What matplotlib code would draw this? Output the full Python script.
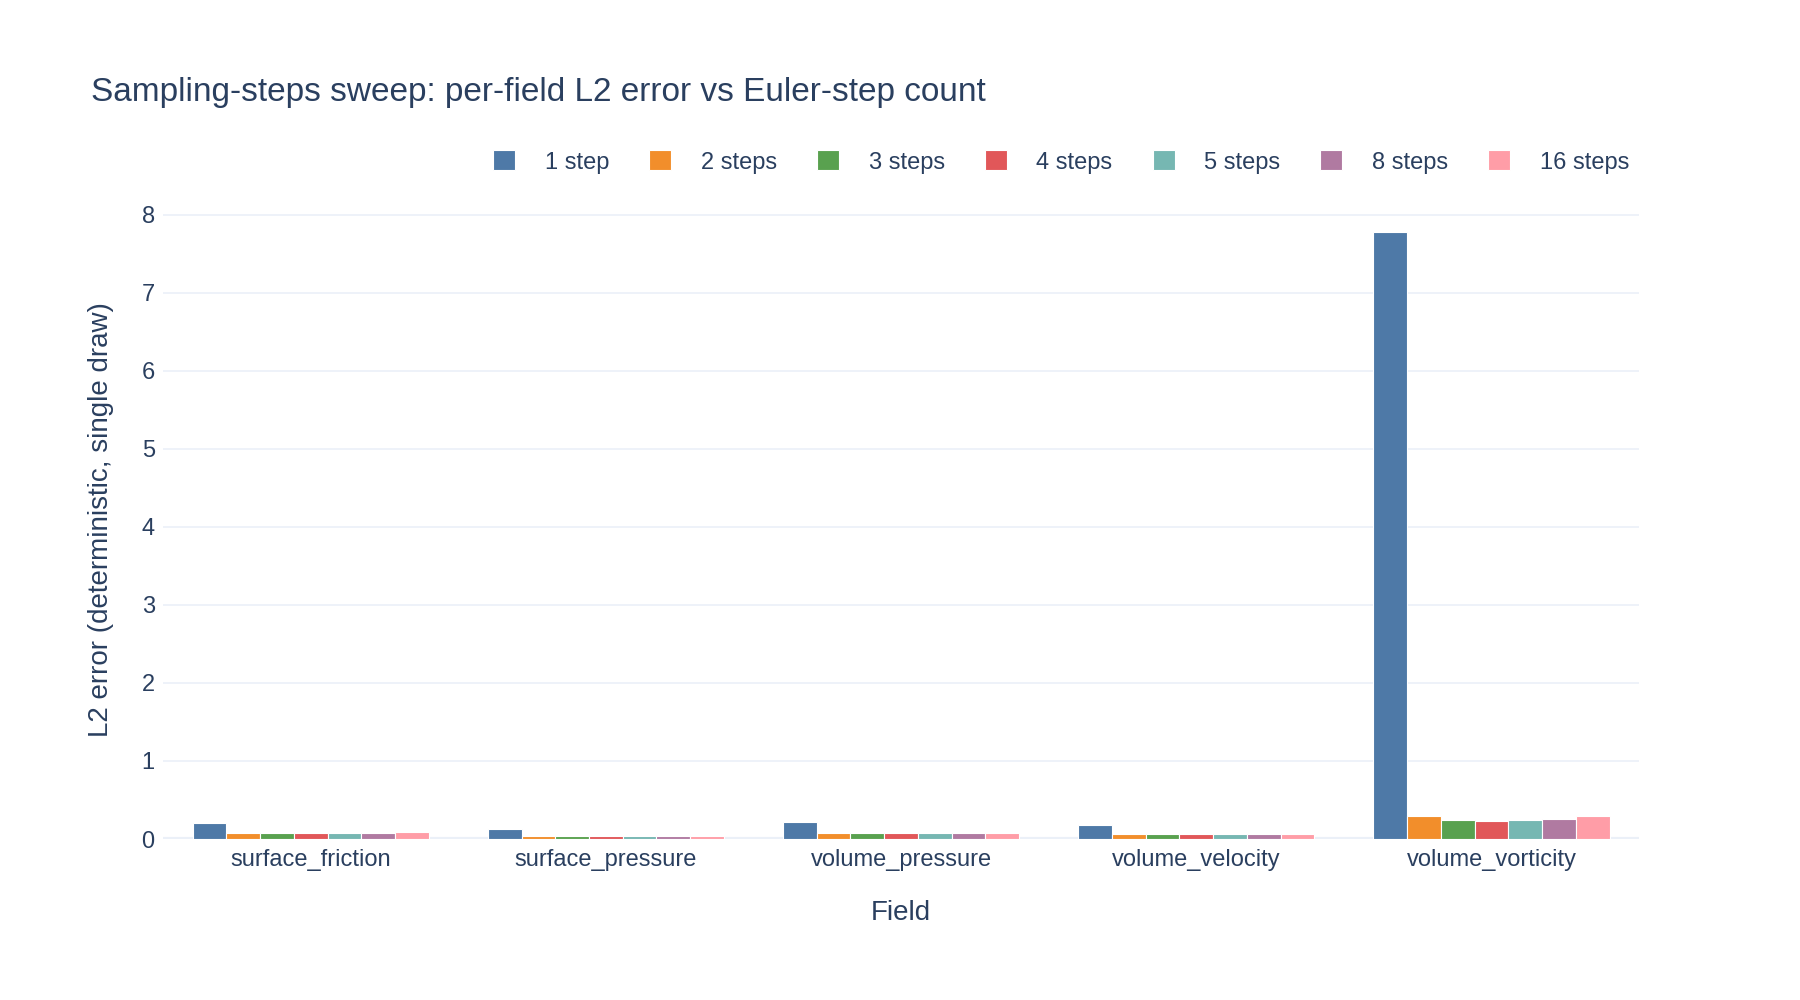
import matplotlib
matplotlib.use("Agg")
import matplotlib.pyplot as plt
import numpy as np

plt.rcParams['font.family'] = ['Liberation Sans', 'DejaVu Sans']

fields = ["surface_friction", "surface_pressure", "volume_pressure", "volume_velocity", "volume_vorticity"]
series_names = ["1 step", "2 steps", "3 steps", "4 steps", "5 steps", "8 steps", "16 steps"]
colors = ["#4E79A7", "#F28E2B", "#59A14F", "#E15759", "#76B7B2", "#B07AA1", "#FF9DA7"]

step_1 = [0.205, 0.128, 0.213, 0.183, 7.78]
step_2 = [0.081, 0.043, 0.077, 0.068, 0.300]
step_3 = [0.081, 0.042, 0.073, 0.064, 0.243]
step_4 = [0.081, 0.042, 0.073, 0.064, 0.235]
step_5 = [0.081, 0.042, 0.073, 0.066, 0.240]
step_8 = [0.081, 0.043, 0.077, 0.070, 0.256]
step_16 = [0.090, 0.043, 0.081, 0.070, 0.295]
values = [step_1, step_2, step_3, step_4, step_5, step_8, step_16]

text_color = "#2a3f5f"
grid_color = "#EBF0F8"

fig = plt.figure(figsize=(18, 10), dpi=100)
ax = fig.add_axes([0.0906, 0.161, 0.82, 0.639])

n = len(series_names)
group_w = 0.8
bw = group_w / n
x = np.arange(len(fields))
for i, (name, vals, c) in enumerate(zip(series_names, values, colors)):
    offs = -group_w / 2 + bw * (i + 0.5)
    ax.bar(x + offs, vals, width=bw, color=c, edgecolor="white", linewidth=0.8,
           label=name, zorder=3)

ax.set_xlim(-0.5, len(fields) - 0.5)
ax.set_ylim(0, 8.19)
ax.set_yticks(range(0, 9))
ax.set_xticks(x)
ax.set_xticklabels(fields)
ax.grid(axis="y", color=grid_color, linewidth=1.2, zorder=0)
ax.axhline(0, color=grid_color, linewidth=3, zorder=2)
for s in ax.spines.values():
    s.set_visible(False)
ax.tick_params(axis="both", length=0, labelsize=17, colors=text_color)
ax.tick_params(axis="x", pad=7)
ax.tick_params(axis="y", pad=6)

ax.set_xlabel("Field", fontsize=20, color=text_color, labelpad=21)
ax.set_ylabel("L2 error (deterministic, single draw)", fontsize=20, color=text_color, labelpad=20)

fig.text(0.0505, 0.908, "Sampling-steps sweep: per-field L2 error vs Euler-step count",
         fontsize=24, color=text_color, ha="left", va="center")

handles, labels = ax.get_legend_handles_labels()
fig.legend(handles, labels, loc="center right", bbox_to_anchor=(0.905, 0.838), ncol=n,
           frameon=False, fontsize=17, handlelength=0.93, handleheight=0.93,
           handletextpad=1.25, columnspacing=1.7, labelcolor=text_color,
           borderaxespad=0, borderpad=0)

fig.savefig("out.png", dpi=100, facecolor="white")
